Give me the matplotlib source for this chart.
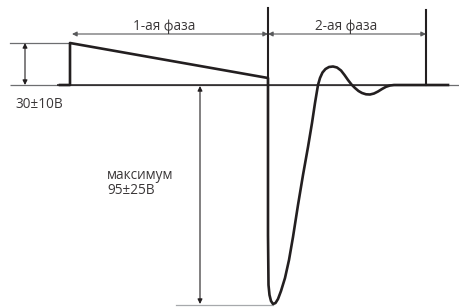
import matplotlib
matplotlib.use("Agg")
import matplotlib.pyplot as plt

plt.rcParams['font.family'] = ['Open Sans', 'DejaVu Sans']

# waveform: time (px-like units) and voltage (baseline = 0, up positive)
t = [60, 70, 70, 268, 268, 268, 268, 268.5, 269.5, 271, 273, 275.5, 278, 281,
     285, 289, 293, 298, 303, 308, 312, 315, 318, 320, 322.5, 325.5, 329, 333,
     337, 341, 344.5, 348, 351.5, 355, 358.5, 362, 366, 370, 374, 378, 382,
     386, 390, 394, 426, 448]
v = [0, 0, 42, 7, 0, -60, -150, -200, -210, -216, -219, -218, -214, -206,
     -193, -175, -152, -120, -90, -62, -38, -18, 0, 7, 12.5, 16, 18, 18.5,
     17.5, 14.5, 10, 5, 0.5, -3, -6, -8, -9.3, -9.5, -8.5, -6.5, -4, -1.8,
     -0.5, 0, 0, 0]

v_top = 42      # 30±10В level
v_min = -219    # maximum negative level
t_phase1 = 268
t_phase2 = 426
phase_labels = ["1-ая фаза", "2-ая фаза"]
amp_label = "30±10В"
max_label = "максимум\n95±25В"

ink = '#231f20'
grey = '#58595b'

fig = plt.figure(figsize=(4.6, 3.07), dpi=100)
ax = fig.add_axes([0, 0, 1, 1])
ax.set_xlim(0, 460)
ax.set_ylim(-222, 85)
ax.axis('off')

# baseline and reference lines
ax.plot([10, 460], [0, 0], color='#6d6e70', lw=0.9, solid_capstyle='butt')
ax.plot([57, 448], [0, 0], color=ink, lw=1.1, solid_capstyle='butt')
ax.plot([10, 70], [v_top, v_top], color='#6d6e70', lw=0.9)
ax.plot([176, 273], [v_min - 1, v_min - 1], color='#a7a9ac', lw=0.9)

# phase markers
ax.plot([t_phase1, t_phase1], [0, 77], color=ink, lw=1.5)
ax.plot([t_phase2, t_phase2], [0, 75], color=ink, lw=1.5)

# waveform
ax.plot(t, v, color=ink, lw=1.9, solid_joinstyle='round')

arrow = dict(arrowstyle='<|-|>', color=ink, lw=0.8, mutation_scale=7,
             shrinkA=0, shrinkB=0)
grey_arrow = dict(arrow, color=grey)
ax.annotate('', xy=(72, 51), xytext=(t_phase1, 51), arrowprops=grey_arrow)
ax.annotate('', xy=(t_phase1, 51), xytext=(t_phase2, 51), arrowprops=grey_arrow)
ax.annotate('', xy=(25, v_top), xytext=(25, 0), arrowprops=arrow)
ax.annotate('', xy=(200, -1), xytext=(200, v_min), arrowprops=arrow)

txt = '#3a3738'
ax.text(164, 59, phase_labels[0], ha='center', va='center', fontsize=9.8, color=txt)
ax.text(346, 59, phase_labels[1], ha='center', va='center', fontsize=9.8, color=txt)
ax.text(15, -19, amp_label, ha='left', va='center', fontsize=9.8, color=txt)
ax.text(107, -98, max_label, ha='left', va='center', fontsize=9.8, color=txt,
        linespacing=1.0)

fig.savefig('out.png', dpi=100)
